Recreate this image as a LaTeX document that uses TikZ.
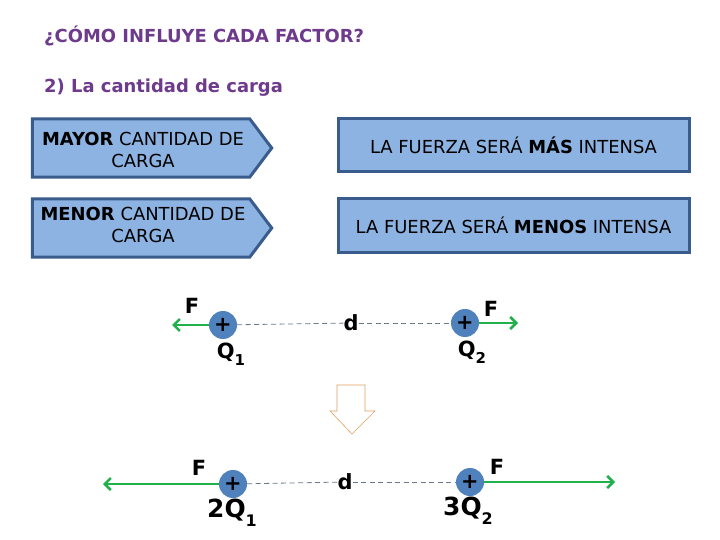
\documentclass[tikz,border=0pt]{standalone}
\usepackage{fontspec}
\setmainfont{DejaVu Sans}
\usetikzlibrary{shapes,arrows.meta,positioning,calc,backgrounds}
\definecolor{titlepurple}{HTML}{6E3A8C}
\definecolor{boxfill}{HTML}{8DB3E2}
\definecolor{boxline}{HTML}{3A5C8C}
\definecolor{chargeblue}{HTML}{4F81BD}
\definecolor{forcegreen}{HTML}{22B04C}
\definecolor{hollowline}{HTML}{E0A060}
\definecolor{gapgray}{HTML}{6A7A8C}

\begin{document}
\begin{tikzpicture}[x=1bp,y=-1bp,
  head/.style={anchor=west,inner sep=0,text=titlepurple,font=\fontsize{18}{21}\selectfont\bfseries},
  cause/.style={minimum width=217bp,minimum height=58bp,inner sep=0,align=center,font=\fontsize{18}{22}\selectfont},
  effect/.style={draw=boxline,line width=3bp,fill=boxfill,minimum width=351bp,minimum height=53bp,font=\fontsize{18}{22}\selectfont},
  charge/.style={circle,fill=chargeblue,minimum size=28bp,inner sep=0,font=\fontsize{21}{21}\selectfont\bfseries},
  force/.style={draw=forcegreen,line width=2.5bp,-{Straight Barb[length=6bp,width=12bp]}},
  gap/.style={draw=gapgray,line width=0.8bp,dash pattern=on 5bp off 3.5bp},
  lbl/.style={inner sep=0,font=\fontsize{21}{21}\selectfont\bfseries}]
\useasboundingbox (0,0) rectangle (720,540);

% titulos
\node[head] (title) at (44,36) {¿CÓMO INFLUYE CADA FACTOR?};
\node[head] (sub) at (44,88) {2) La cantidad de carga};

% cajas
\node[cause] (more) at (141,148) {};
\node[cause] (less) at (141,228) {};
\node[cause,minimum size=0pt] (moretext) at (143,150) {\textbf{MAYOR} CANTIDAD DE\\CARGA};
\node[cause,minimum size=0pt] (lesstext) at (143,225) {\textbf{MENOR} CANTIDAD DE\\CARGA};
\node[effect] (strong) at (513.5,145) {LA FUERZA SERÁ \textbf{MÁS} INTENSA};
\node[effect] (weak) at (513.5,225.5) {LA FUERZA SERÁ \textbf{MENOS} INTENSA};
\begin{scope}[on background layer]
\fill[white] (0,0) rectangle (720,540);
\foreach \b in {more,less}
  \draw[draw=boxline,line width=3bp,fill=boxfill,line join=miter]
    (\b.north west) -- (\b.north east) -- ($(\b.east)+(22,0)$) -- (\b.south east) -- (\b.south west) -- cycle;
\end{scope}

% primera situacion
\node[charge] (q1) at (223,325) {+};
\node[charge] (q2) at (465,323) {+};
\node[lbl] (d1) at (351,323) {d};
\coordinate (f1) at (172,325);
\coordinate (f2) at (518,323);
\draw[gap] (q1) -- (d1);
\draw[gap] (d1) -- (q2);
\draw[force] (q1.west) -- (f1);
\draw[force] (q2.east) -- (f2);
\node[lbl] (fa) at (192,306) {F};
\node[lbl] (fb) at (491,309) {F};
\node[lbl] (qa) at (231,354) {Q\raisebox{-0.35em}{\fontsize{15}{15}\selectfont 1}};
\node[lbl] (qb) at (472,352) {Q\raisebox{-0.35em}{\fontsize{15}{15}\selectfont 2}};

% flecha hueca
\draw[hollowline,line width=0.6bp] (337,385) -- (365,385) -- (365,411) -- (375,411) -- (352,434) -- (330,411) -- (337,411) -- cycle;

% segunda situacion
\node[charge] (p1) at (233,484) {+};
\node[charge] (p2) at (470,482) {+};
\node[lbl] (d2) at (345,482) {d};
\coordinate (g1) at (103,484);
\coordinate (g2) at (615,482);
\draw[gap] (p1) -- (d2);
\draw[gap] (d2) -- (p2);
\draw[force] (p1.west) -- (g1);
\draw[force] (p2.east) -- (g2);
\node[lbl] (fc) at (199,468) {F};
\node[lbl] (fd) at (497,467) {F};
\node[lbl,font=\fontsize{25}{25}\selectfont\bfseries] (pa) at (232,513) {2Q\raisebox{-0.35em}{\fontsize{16}{16}\selectfont 1}};
\node[lbl,font=\fontsize{25}{25}\selectfont\bfseries] (pb) at (468,511) {3Q\raisebox{-0.35em}{\fontsize{16}{16}\selectfont 2}};
\end{tikzpicture}
\end{document}
